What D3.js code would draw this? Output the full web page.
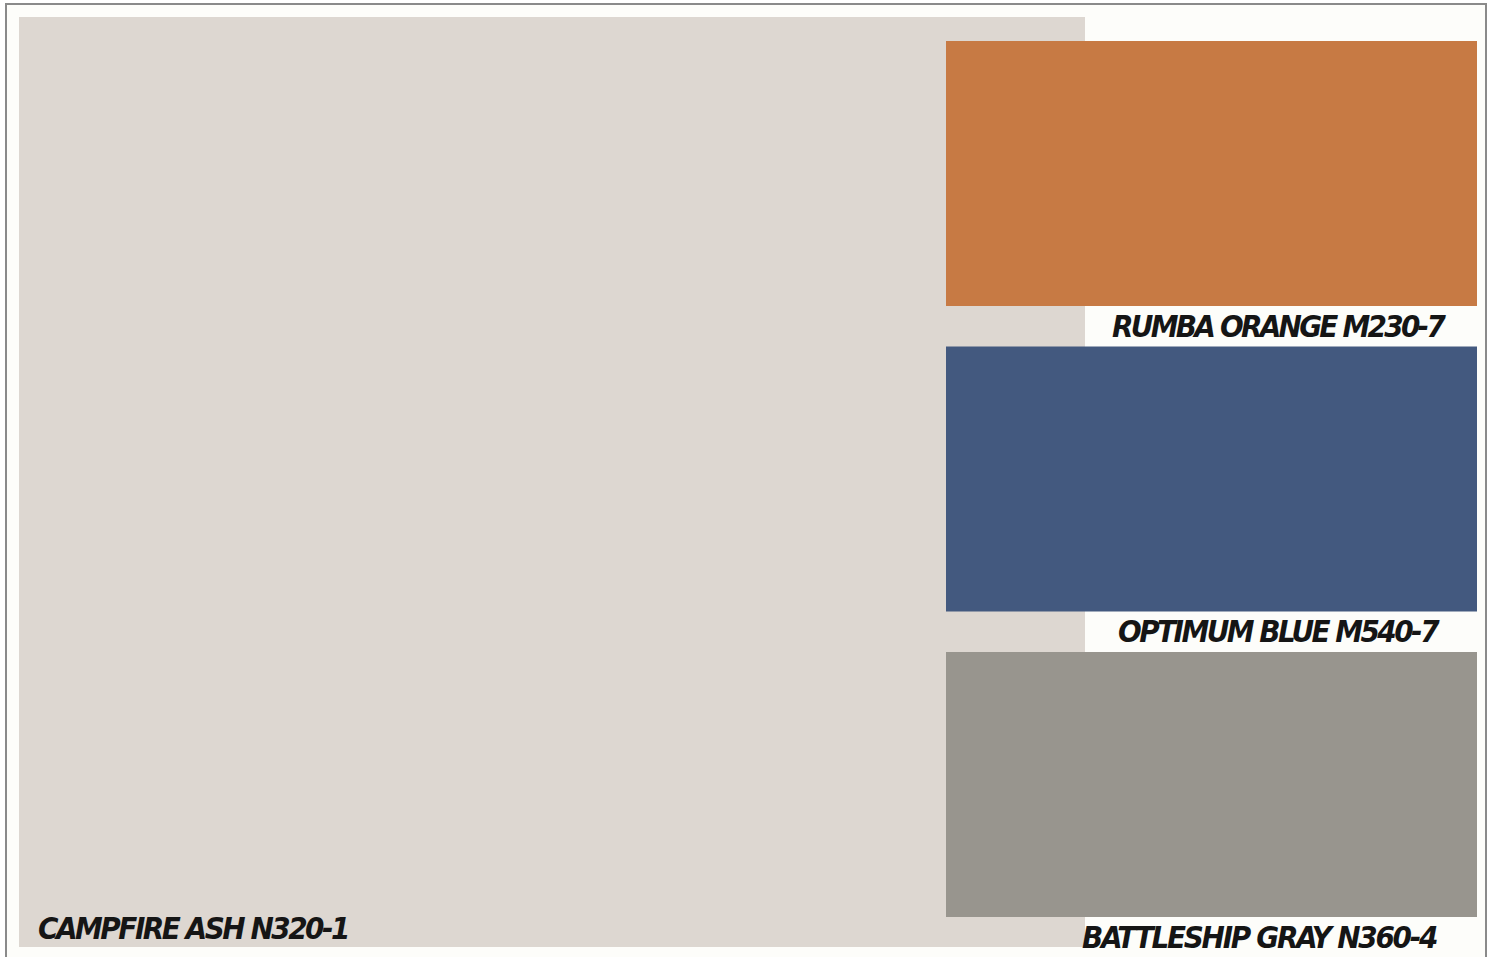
<!DOCTYPE html>
<html>
<head>
<meta charset="utf-8">
<script src="https://cdn.jsdelivr.net/npm/d3@7"></script>
<style>
  html, body { margin: 0; padding: 0; background: #ffffff; }
  svg { display: block; }
</style>
</head>
<body>
<script>
// ---- data ----
const mainName = "CAMPFIRE ASH N320-1";
const mainColor = "#ddd7d1";
const swatchNames = ["RUMBA ORANGE M230-7", "OPTIMUM BLUE M540-7", "BATTLESHIP GRAY N360-4"];
const swatchColors = ["#c77a44", "#43597f", "#98958e"];

// ---- layout ----
const W = 1494, H = 957;
const svg = d3.select("body").append("svg").attr("width", W).attr("height", H);

svg.append("rect").attr("x", 0).attr("y", 0).attr("width", W).attr("height", H).attr("fill", "#ffffff");
// inner panel background (warm white) with grey frame
svg.append("rect").attr("x", 6).attr("y", 4).attr("width", 1480).attr("height", H - 3)
  .attr("fill", "#fdfdfa").attr("stroke", "#8a8a8a").attr("stroke-width", 2);

// main swatch
svg.append("rect").attr("x", 19).attr("y", 17).attr("width", 1066).attr("height", 930)
  .attr("fill", mainColor);

const labelFont = "'Liberation Sans Narrow', 'DejaVu Sans Condensed', 'Liberation Sans', sans-serif";

function fitSpacing(sel, target) {
  sel.each(function(d, i) {
    const t = typeof target === "function" ? target(d, i) : target;
    const n = this.textContent.length;
    const nat = this.getComputedTextLength();
    const ls = (t - nat) / n;
    d3.select(this).attr("letter-spacing", ls.toFixed(2));
  });
}

const mainLabel = svg.append("text")
  .attr("x", 38).attr("y", 939)
  .attr("font-family", labelFont).attr("font-weight", "bold").attr("font-style", "italic")
  .attr("font-size", 31).attr("fill", "#151515")
  .text(mainName);
fitSpacing(mainLabel, 310);

// secondary swatches
const y = d3.scaleBand().domain(swatchNames).range([41, 917]).paddingInner(0.1326).paddingOuter(0);
const x0 = 946, x1 = 1477;

const g = svg.selectAll("g.sw").data(swatchNames).join("g").attr("class", "sw");
g.append("rect")
  .attr("x", x0).attr("y", d => y(d))
  .attr("width", x1 - x0).attr("height", y.bandwidth())
  .attr("fill", (d, i) => swatchColors[i]);

const labelW = [331, 319, 354];
const labelX = [1112, 1118, 1082];
const labels = g.append("text")
  .attr("x", (d, i) => labelX[i]).attr("y", d => y(d) + y.bandwidth() + 31)
  .attr("font-family", labelFont).attr("font-weight", "bold").attr("font-style", "italic")
  .attr("font-size", 31).attr("fill", "#151515")
  .text(d => d);
fitSpacing(labels, (d, i) => labelW[i]);
</script>
</body>
</html>
